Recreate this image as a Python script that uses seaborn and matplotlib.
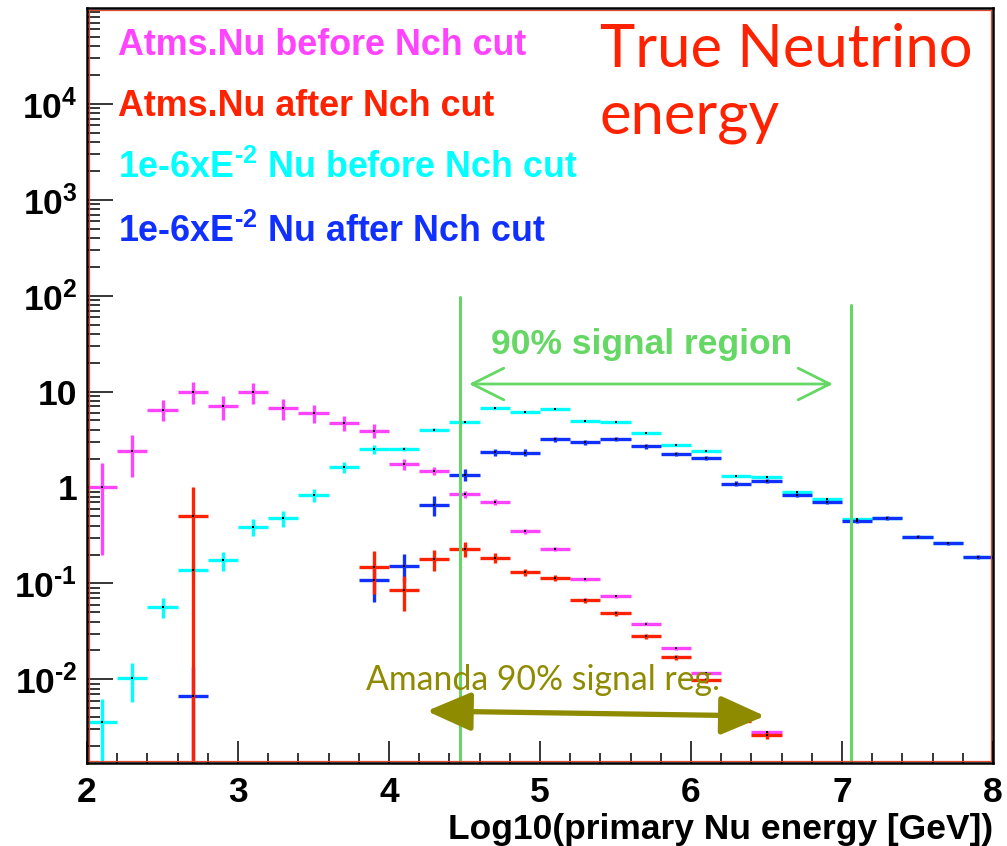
import numpy as np
import pandas as pd
import seaborn as sns
import matplotlib
matplotlib.use("Agg")
import matplotlib.pyplot as plt
from matplotlib.patches import Rectangle
from matplotlib.ticker import FixedLocator, FuncFormatter, LogLocator, MultipleLocator, NullFormatter

nan = np.nan

# log10(E/GeV) bin centres, bin width 0.2
bin_centers = [2.1, 2.3, 2.5, 2.7, 2.9, 3.1, 3.3, 3.5, 3.7, 3.9,
               4.1, 4.3, 4.5, 4.7, 4.9, 5.1, 5.3, 5.5, 5.7, 5.9,
               6.1, 6.3, 6.5, 6.7, 6.9, 7.1, 7.3, 7.5, 7.7, 7.9]
half_width = 0.1

# Atmospheric neutrinos before the Nch cut
atm_before = [1.0, 2.4, 6.5, 10.0, 7.0, 9.8, 6.7, 6.0, 4.7, 3.9,
              1.75, 1.5, 0.85, 0.71, 0.35, 0.23, 0.11, 0.073, 0.038, 0.021,
              0.0115, 0.0042, 0.0028, nan, nan, nan, nan, nan, nan, nan]
atm_before_err = [0.8, 1.1, 1.6, 2.5, 2.0, 2.4, 1.6, 1.3, 0.8, 0.65,
                  0.24, 0.15, 0.07, 0.05, 0.02, 0.012, 0.005, 0.003, 0.0015, 0.0008,
                  0.0004, 0.00015, 0.0001, nan, nan, nan, nan, nan, nan, nan]

# Atmospheric neutrinos after the Nch cut
atm_after = [nan, nan, nan, 0.5, nan, nan, nan, nan, nan, 0.148,
             0.085, 0.179, 0.227, 0.185, 0.13, 0.115, 0.067, 0.049, 0.028, 0.017,
             0.0098, 0.0037, 0.0026, nan, nan, nan, nan, nan, nan, nan]
atm_after_err = [nan, nan, nan, 0.4999, nan, nan, nan, nan, nan, 0.07,
                 0.033, 0.045, 0.04, 0.02, 0.012, 0.008, 0.004, 0.003, 0.0015, 0.001,
                 0.0006, 0.0003, 0.0002, nan, nan, nan, nan, nan, nan, nan]

# 1e-6 x E^-2 signal before the Nch cut
e2_before = [0.0036, 0.0103, 0.057, 0.138, 0.175, 0.39, 0.48, 0.83, 1.62, 2.5,
             2.55, 4.0, 4.8, 6.8, 6.2, 6.6, 4.95, 4.85, 3.7, 2.75,
             2.4, 1.32, 1.30, 0.895, 0.76, 0.47, 0.486, 0.306, 0.262, 0.188]
e2_before_err = [0.0026, 0.0045, 0.013, 0.02, 0.04, 0.08, 0.09, 0.13, 0.22, 0.25,
                 0.12, 0.15, 0.15, 0.15, 0.12, 0.12, 0.08, 0.07, 0.05, 0.04,
                 0.03, 0.02, 0.02, 0.012, 0.01, 0.007, 0.007, 0.005, 0.004, 0.003]

# 1e-6 x E^-2 signal after the Nch cut
e2_after = [nan, nan, nan, 0.00675, nan, nan, nan, nan, nan, 0.109,
            0.153, 0.66, 1.36, 2.34, 2.3, 3.2, 2.95, 3.2, 2.7, 2.25,
            2.04, 1.10, 1.18, 0.845, 0.71, 0.446, 0.483, 0.306, 0.262, 0.188]
e2_after_err = [nan, nan, nan, 0.0067, nan, nan, nan, nan, nan, 0.045,
                0.05, 0.15, 0.2, 0.19, 0.19, 0.2, 0.18, 0.18, 0.15, 0.12,
                0.1, 0.06, 0.06, 0.04, 0.03, 0.02, 0.02, 0.012, 0.01, 0.008]

series_names = ["Atms.Nu before Nch cut", "Atms.Nu after Nch cut",
                r"1e-6xE$^{\text{-2}}$ Nu before Nch cut",
                r"1e-6xE$^{\text{-2}}$ Nu after Nch cut"]
series_colors = ["#ff44ff", "#ff2200", "#00ffff", "#1030ff"]

signal_lo, signal_hi = 4.47, 7.06
amanda_lo, amanda_hi = 4.25, 6.49

green = "#64d764"
olive = "#8f8b00"

sns.set_theme(style="ticks")
plt.rcParams["font.family"] = ["Liberation Sans", "DejaVu Sans"]
plt.rcParams["mathtext.fontset"] = "custom"
plt.rcParams["mathtext.rm"] = "Liberation Sans:bold"
plt.rcParams["mathtext.it"] = "Liberation Sans:bold"
plt.rcParams["mathtext.bf"] = "Liberation Sans:bold"
plt.rcParams["text.color"] = "black"
plt.rcParams["axes.labelcolor"] = "black"
plt.rcParams["xtick.color"] = "black"
plt.rcParams["ytick.color"] = "black"
plt.rcParams["xtick.labelcolor"] = "black"
plt.rcParams["ytick.labelcolor"] = "black"

fig = plt.figure(figsize=(10.07, 8.46), dpi=100)
fig.patch.set_facecolor("white")
ax = fig.add_axes([87 / 1007, 83 / 846, 906 / 1007, 755 / 846])
ax.set_facecolor("white")

frames = []
for name, vals, errs in [(series_names[0], atm_before, atm_before_err),
                         (series_names[2], e2_before, e2_before_err),
                         (series_names[3], e2_after, e2_after_err),
                         (series_names[1], atm_after, atm_after_err)]:
    frames.append(pd.DataFrame({"energy": bin_centers, "count": vals,
                                "err": errs, "sample": name}))
data = pd.concat(frames, ignore_index=True).dropna(subset=["count"])

palette = dict(zip(series_names, series_colors))
for z, name in enumerate([series_names[0], series_names[2], series_names[3], series_names[1]]):
    d = data[data["sample"] == name]
    ax.errorbar(d["energy"], d["count"], xerr=half_width, yerr=d["err"],
                fmt="none", ecolor=palette[name], elinewidth=2.4, capsize=0,
                zorder=3 + z)

# bin centre dots
sns.scatterplot(data=data, x="energy", y="count", color="black", s=2.5,
                marker="s", linewidth=0, legend=False, ax=ax, zorder=8)

ax.set_xscale("linear")
ax.set_yscale("log")
ax.set_xlim(2, 8)
ax.set_ylim(1.34e-3, 1.0e5)

# signal region markers
ax.plot([signal_lo, signal_lo], [98, 1.34e-3], color=green, lw=2.2, zorder=9)
ax.plot([signal_hi, signal_hi], [80.7, 1.34e-3], color=green, lw=2.2, zorder=9)
ax.annotate("", xy=(4.53, 12), xytext=(6.94, 12),
            arrowprops=dict(arrowstyle="<->,head_length=1.9,head_width=0.95",
                            color=green, lw=2.0, shrinkA=0, shrinkB=0), zorder=9)
ax.text(4.673, 24.9, "90% signal region", color=green, fontsize=25.5,
        fontweight="bold", ha="left", va="baseline", zorder=9)

ax.annotate("", xy=(amanda_lo, 0.00467), xytext=(amanda_hi, 0.00414),
            arrowprops=dict(arrowstyle="<|-|>,head_length=1.6,head_width=0.7",
                            color=olive, lw=3.8, shrinkA=0, shrinkB=0,
                            mutation_scale=17), zorder=10)
ax.text(3.848, 0.00773, "Amanda 90% signal reg.", color=olive, fontsize=24.3,
        family="Lato", ha="left", va="baseline", zorder=10)

# title block
ax.text(0.5662, 0.9222, "True Neutrino", transform=ax.transAxes, color="#ff2200",
        fontsize=43, family="Lato", ha="left", va="baseline")
ax.text(0.5662, 0.834, "energy", transform=ax.transAxes, color="#ff2200",
        fontsize=43, family="Lato", ha="left", va="baseline")

# legend as coloured text lines
for name, color, yb in zip(series_names, series_colors, [55, 116, 178, 242]):
    ax.text(31 / 906, (755 - (yb - 8)) / 755, name, transform=ax.transAxes,
            color=color, fontsize=25.8, fontweight="bold", ha="left", va="baseline")

# axes styling
ax.xaxis.set_major_locator(MultipleLocator(1))
ax.xaxis.set_minor_locator(MultipleLocator(0.2))
ax.yaxis.set_major_locator(FixedLocator([1e-2, 1e-1, 1, 10, 1e2, 1e3, 1e4]))
ax.yaxis.set_minor_locator(LogLocator(base=10, subs=np.arange(2, 10)))
ax.yaxis.set_minor_formatter(NullFormatter())

ylabels = {1e-2: r"$10^{\text{-2}}$", 1e-1: r"$10^{\text{-1}}$", 1: "1", 10: "10",
           1e2: r"$10^{2}$", 1e3: r"$10^{3}$", 1e4: r"$10^{4}$"}
ax.yaxis.set_major_formatter(FuncFormatter(
    lambda v, p: min(ylabels.items(), key=lambda kv: abs(np.log10(kv[0]) - np.log10(v)))[1]))
ax.xaxis.set_major_formatter(FuncFormatter(lambda v, p: f"{int(round(v))}"))

ax.tick_params(axis="y", which="major", direction="in", length=18.7, width=1.1,
               color="black", labelcolor="black", labelsize=25.5, pad=7, right=False)
ax.tick_params(axis="y", which="minor", direction="in", length=9.4, width=1.1,
               color="black", right=False)
ax.tick_params(axis="x", which="major", direction="in", length=15.8, width=1.1,
               color="black", labelcolor="black", labelsize=25.5, pad=9, top=False)
ax.tick_params(axis="x", which="minor", direction="in", length=7.2, width=1.1,
               color="black", top=False)
for lab in ax.get_xticklabels() + ax.get_yticklabels():
    lab.set_fontweight("bold")

ax.set_xlabel("Log10(primary Nu energy [GeV])", fontsize=25.5, fontweight="bold",
              color="black", loc="right", labelpad=3)
ax.set_ylabel("")

for sp in ax.spines.values():
    sp.set_visible(True)
    sp.set_color("black")
    sp.set_linewidth(1.8)
    sp.set_zorder(20)

# thin red frame just inside the black one
ix, iy = 2.0 / 906, 2.0 / 755
ax.add_patch(Rectangle((ix, iy), 1 - 2 * ix, 1 - 2 * iy, transform=ax.transAxes,
                       fill=False, edgecolor="#e04a30", lw=0.9, zorder=19,
                       clip_on=False))

fig.savefig("out.png", dpi=100, facecolor="white")
